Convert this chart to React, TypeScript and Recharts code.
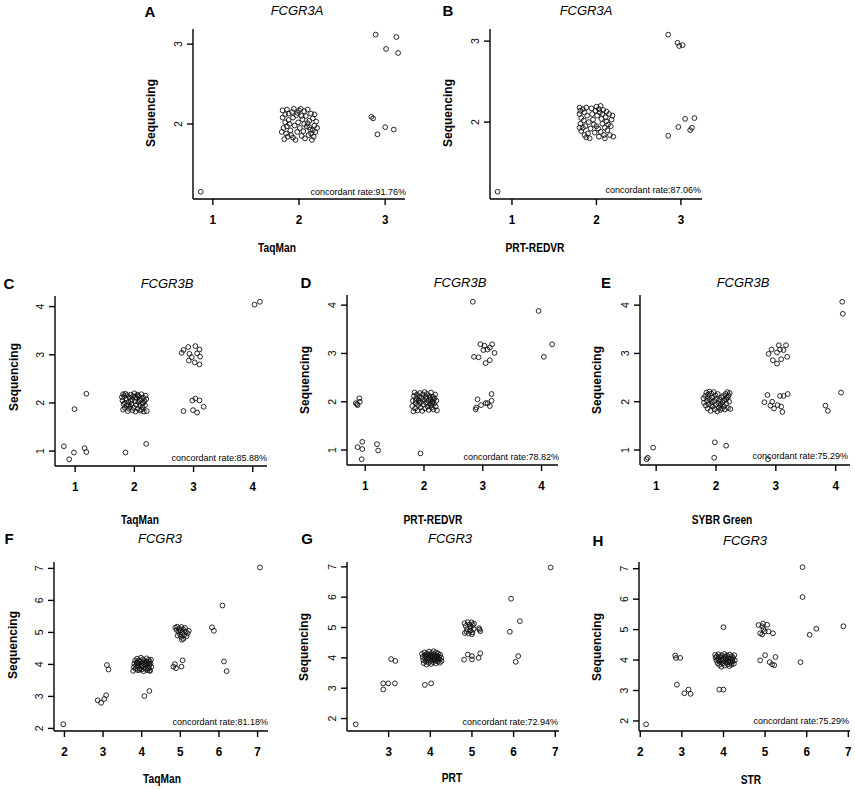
import React from 'react';
import { ScatterChart, Scatter, XAxis, YAxis } from 'recharts';

type Pt = [number, number];

// panel text
const letters = ['A', 'B', 'C', 'D', 'E', 'F', 'G', 'H'];
const genes = ['FCGR3A', 'FCGR3A', 'FCGR3B', 'FCGR3B', 'FCGR3B', 'FCGR3', 'FCGR3', 'FCGR3'];
const methods = ['TaqMan', 'PRT-REDVR', 'TaqMan', 'PRT-REDVR', 'SYBR Green', 'TaqMan', 'PRT', 'STR'];
const rates = ['91.76%', '87.06%', '85.88%', '78.82%', '75.29%', '81.18%', '72.94%', '75.29%'];
const yTitle = 'Sequencing';

// tick values
const ticks123 = [1, 2, 3];
const ticks23 = [2, 3];
const ticks1234 = [1, 2, 3, 4];
const ticks2to7 = [2, 3, 4, 5, 6, 7];
const ticks3to7 = [3, 4, 5, 6, 7];

// A: FCGR3A, TaqMan vs sequencing
const ptsA: Pt[] = [
  [0.86, 1.15], [2.89, 3.12], [3.13, 3.09], [3.01, 2.94], [3.15, 2.89],
  [2.84, 2.09], [2.86, 2.07], [3.0, 1.96], [2.91, 1.87], [3.1, 1.93],
  [1.81, 2.17], [1.84, 2.12], [1.86, 2.18], [1.88, 2.05], [1.82, 1.95], [1.85, 1.88], [1.83, 1.81],
  [1.87, 1.84], [1.9, 1.92], [1.92, 2.15], [1.94, 2.19], [1.93, 2.08], [1.95, 1.98], [1.91, 1.86],
  [1.96, 1.8], [1.98, 1.9], [1.99, 2.02], [1.97, 2.11], [2.0, 2.17], [2.02, 2.19], [2.01, 1.95],
  [2.03, 1.85], [2.04, 2.06], [1.89, 2.0], [1.84, 2.02], [1.8, 1.9], [2.06, 2.16], [2.08, 2.1],
  [2.1, 2.18], [2.12, 2.04], [2.14, 2.13], [2.16, 2.07], [2.18, 1.98], [2.2, 2.03], [2.19, 1.9],
  [2.17, 1.84], [2.15, 1.8], [2.13, 1.93], [2.11, 1.86], [2.09, 1.97], [2.07, 1.82], [2.05, 1.91],
  [2.21, 1.95], [2.18, 2.12], [2.14, 1.88], [2.1, 2.01], [1.86, 1.97], [1.93, 1.83], [1.98, 2.14],
  [2.06, 2.0], [1.81, 2.08], [1.88, 2.13], [2.03, 2.1], [2.16, 1.92], [2.12, 1.96],
];

// B: FCGR3A, PRT-REDVR vs sequencing
const ptsB: Pt[] = [
  [0.83, 1.14], [2.85, 3.08], [2.96, 2.98], [2.98, 2.94], [3.02, 2.95],
  [2.85, 1.83], [2.97, 1.94], [3.05, 2.04], [3.16, 2.05], [3.13, 1.93], [3.11, 1.9],
  [1.8, 2.18], [1.81, 2.14], [1.8, 2.1], [1.82, 2.05], [1.81, 1.98], [1.8, 1.93], [1.82, 1.89],
  [1.84, 2.16], [1.86, 2.12], [1.85, 2.02], [1.87, 1.95], [1.86, 1.84], [1.88, 1.81], [1.9, 1.86],
  [1.92, 1.8], [1.89, 2.08], [1.91, 2.0], [1.93, 1.92], [1.95, 2.1], [1.96, 2.03], [1.97, 1.97],
  [1.99, 2.14], [2.0, 2.19], [2.01, 2.08], [2.02, 1.92], [2.03, 2.16], [2.04, 2.12], [2.05, 2.2],
  [2.06, 2.04], [2.07, 1.98], [2.05, 1.88], [2.08, 2.15], [2.09, 1.84], [2.1, 1.93], [2.11, 2.06],
  [2.12, 2.01], [2.1, 1.8], [2.13, 1.9], [2.14, 1.97], [2.15, 2.1], [2.16, 1.84], [2.17, 1.95],
  [2.19, 2.08], [2.2, 1.82], [2.18, 2.03], [1.94, 2.17], [1.98, 1.87], [2.03, 1.82], [1.84, 1.93],
  [2.07, 2.1], [2.0, 1.95], [1.88, 2.18], [2.12, 2.13],
];

// C: FCGR3B, TaqMan vs sequencing
const ptsC: Pt[] = [
  [0.81, 1.1], [0.9, 0.83], [0.98, 0.97], [1.16, 1.06], [1.19, 0.98], [0.99, 1.87], [1.19, 2.19],
  [1.85, 0.97], [2.2, 1.15], [4.03, 4.04], [4.12, 4.1],
  [2.83, 3.1], [2.91, 3.16], [3.03, 3.18], [3.1, 3.11], [2.93, 3.02], [3.06, 3.03], [3.11, 2.96],
  [2.92, 2.88], [3.02, 2.84], [3.1, 2.8], [2.97, 2.95], [2.8, 3.04],
  [2.83, 1.83], [2.99, 1.85], [3.06, 1.8], [2.98, 2.05], [3.03, 2.09], [3.1, 2.05], [3.17, 1.92],
  [1.79, 2.12], [1.81, 2.18], [1.83, 2.14], [1.85, 2.19], [1.8, 2.05], [1.82, 1.97], [1.84, 1.9],
  [1.81, 1.86], [1.86, 2.08], [1.88, 2.16], [1.87, 1.95], [1.89, 1.83], [1.91, 1.88], [1.9, 2.02],
  [1.92, 2.11], [1.94, 2.17], [1.95, 1.98], [1.93, 1.92], [1.97, 1.85], [1.96, 2.07], [1.98, 2.14],
  [2.0, 2.2], [2.01, 2.03], [1.99, 1.9], [2.02, 1.82], [2.03, 1.96], [2.04, 2.1], [2.05, 2.17],
  [2.06, 1.88], [2.07, 2.02], [2.08, 2.13], [2.09, 1.94], [2.1, 1.84], [2.11, 2.07], [2.12, 2.18],
  [2.13, 1.99], [2.14, 1.91], [2.15, 2.11], [2.16, 1.82], [2.17, 2.04], [2.18, 1.95], [2.19, 2.15],
  [2.2, 2.08], [2.21, 1.83], [2.06, 2.15], [2.09, 2.05], [2.12, 1.86], [1.84, 2.0], [1.94, 2.04],
  [2.02, 2.12], [2.15, 2.0], [1.9, 1.95],
];

// D: FCGR3B, PRT-REDVR vs sequencing
const ptsD: Pt[] = [
  [0.84, 1.97], [0.87, 1.93], [0.9, 2.07], [0.91, 2.0], [0.86, 1.95],
  [0.87, 1.06], [0.95, 1.02], [0.95, 1.17], [0.94, 0.81], [1.2, 1.12], [1.22, 0.99], [1.94, 0.93],
  [2.83, 4.07], [3.95, 3.88], [4.18, 3.19], [4.04, 2.93],
  [2.85, 2.93], [2.93, 2.92], [2.96, 3.19], [3.03, 3.16], [3.08, 3.08], [3.12, 3.12], [3.16, 3.19],
  [3.2, 3.01], [3.05, 2.8], [3.12, 2.86], [3.01, 3.07],
  [2.88, 1.84], [2.91, 2.05], [2.97, 1.93], [3.05, 1.97], [3.12, 1.91], [3.15, 2.16], [3.15, 2.02],
  [2.89, 1.88], [3.08, 1.97],
  [1.8, 1.91], [1.82, 1.8], [1.81, 2.02], [1.83, 2.12], [1.84, 2.19], [1.85, 1.86], [1.86, 1.97],
  [1.87, 2.07], [1.88, 2.15], [1.89, 1.82], [1.9, 1.93], [1.91, 2.03], [1.92, 2.11], [1.93, 2.18],
  [1.94, 1.88], [1.95, 1.99], [1.96, 2.08], [1.97, 1.81], [1.98, 2.15], [1.99, 1.94], [2.0, 2.04],
  [2.01, 2.2], [2.02, 1.86], [2.03, 2.1], [2.04, 1.97], [2.05, 2.16], [2.06, 1.9], [2.07, 2.02],
  [2.08, 1.83], [2.09, 2.12], [2.1, 1.95], [2.11, 2.05], [2.12, 2.19], [2.13, 1.88], [2.14, 2.0],
  [2.15, 2.1], [2.16, 1.84], [2.17, 1.96], [2.18, 2.07], [2.19, 2.15], [2.2, 1.9], [2.21, 2.02],
  [2.22, 1.82], [2.12, 1.93], [2.14, 1.97], [2.1, 2.08], [1.86, 2.02], [1.92, 1.98], [2.04, 2.06],
  [2.16, 2.04],
];

// E: FCGR3B, SYBR Green vs sequencing
const ptsE: Pt[] = [
  [0.84, 0.81], [0.86, 0.84], [0.95, 1.05], [1.98, 1.16], [2.17, 1.09], [1.97, 0.84], [2.87, 0.81],
  [4.11, 4.07], [4.12, 3.82], [4.09, 2.19], [3.83, 1.92], [3.87, 1.81],
  [2.88, 2.99], [2.93, 3.08], [3.02, 3.02], [3.05, 3.17], [3.17, 3.17], [3.07, 3.08], [2.95, 2.86],
  [3.02, 2.79], [3.09, 2.88], [3.19, 2.93], [3.13, 3.07],
  [2.81, 1.99], [2.86, 2.14], [2.91, 1.92], [2.97, 1.86], [2.94, 2.0], [3.03, 1.93], [3.09, 1.9],
  [3.11, 1.79], [3.07, 2.12], [3.13, 2.12], [3.2, 2.16],
  [1.79, 2.07], [1.8, 1.98], [1.82, 2.12], [1.83, 1.92], [1.84, 2.19], [1.85, 2.02], [1.86, 1.86],
  [1.87, 2.15], [1.88, 1.95], [1.89, 2.21], [1.9, 2.05], [1.91, 1.81], [1.92, 2.17], [1.93, 1.99],
  [1.94, 2.09], [1.95, 1.9], [1.96, 2.2], [1.97, 2.02], [1.98, 1.84], [1.99, 2.13], [2.0, 1.94],
  [2.01, 2.06], [2.02, 1.8], [2.03, 2.16], [2.04, 1.97], [2.05, 1.88], [2.06, 2.04], [2.07, 1.83],
  [2.08, 1.95], [2.09, 2.09], [2.1, 1.86], [2.11, 1.99], [2.12, 2.12], [2.13, 1.91], [2.14, 2.03],
  [2.15, 1.84], [2.16, 2.16], [2.17, 1.96], [2.18, 2.08], [2.19, 2.2], [2.2, 1.87], [2.21, 2.13],
  [2.22, 2.0], [2.23, 2.18], [2.24, 1.85], [2.17, 2.05], [2.2, 2.1], [1.86, 2.08], [1.92, 1.93],
  [2.07, 1.92],
];

// F: FCGR3, TaqMan vs sequencing
const ptsF: Pt[] = [
  [1.97, 2.13], [2.86, 2.88], [2.95, 2.8], [3.03, 2.92], [3.08, 3.04], [3.1, 3.98], [3.14, 3.84],
  [4.07, 3.01], [4.2, 3.17],
  [4.82, 3.93], [4.86, 4.01], [4.89, 3.88], [5.03, 3.93], [5.06, 4.13],
  [5.82, 5.16], [5.87, 5.05], [6.09, 5.84], [6.13, 4.09], [6.2, 3.79], [7.06, 7.03],
  [4.87, 5.15], [4.9, 5.08], [4.92, 5.18], [4.95, 5.02], [4.97, 5.12], [4.99, 4.94], [5.0, 5.06],
  [5.02, 4.86], [5.03, 5.17], [5.05, 4.99], [5.07, 5.1], [5.08, 4.8], [5.1, 4.92], [5.12, 5.14],
  [5.14, 5.03], [5.16, 4.88], [5.19, 4.97], [5.22, 5.05], [5.04, 4.77], [4.93, 4.9],
  [3.78, 3.8], [3.8, 3.92], [3.81, 4.02], [3.83, 4.12], [3.84, 3.86], [3.86, 3.97], [3.87, 4.07],
  [3.88, 4.18], [3.9, 3.82], [3.91, 3.93], [3.92, 4.03], [3.93, 4.13], [3.95, 3.88], [3.96, 4.0],
  [3.97, 4.1], [3.98, 4.21], [4.0, 3.84], [4.01, 3.95], [4.02, 4.05], [4.03, 4.16], [4.05, 3.79],
  [4.06, 3.9], [4.07, 4.01], [4.08, 4.11], [4.1, 3.86], [4.11, 3.97], [4.12, 4.08], [4.13, 4.19],
  [4.15, 3.82], [4.16, 3.93], [4.17, 4.04], [4.18, 4.14], [4.19, 3.88], [4.2, 3.99], [4.21, 4.09],
  [4.22, 3.8], [4.23, 4.02], [4.24, 4.15], [4.25, 3.92], [4.2, 3.81], [3.89, 4.05], [3.99, 3.95],
  [4.09, 4.0], [4.14, 4.06], [3.94, 3.83],
];

// G: FCGR3, PRT vs sequencing
const ptsG: Pt[] = [
  [2.21, 1.81], [2.87, 2.96], [2.87, 3.16], [2.99, 3.16], [3.15, 3.16], [3.06, 3.96], [3.16, 3.9],
  [3.87, 3.11], [4.02, 3.16],
  [4.81, 3.94], [4.9, 4.11], [5.0, 3.95], [5.0, 4.06], [5.16, 4.0], [5.2, 4.15],
  [5.94, 5.95], [5.91, 4.86], [6.15, 5.21], [6.11, 4.06], [6.05, 3.87], [6.89, 6.98],
  [4.82, 5.14], [4.85, 5.05], [4.83, 4.82], [4.88, 4.95], [4.9, 5.18], [4.92, 4.8], [4.94, 5.1],
  [4.96, 4.9], [4.97, 5.0], [4.99, 5.17], [5.01, 4.84], [5.02, 5.08], [5.04, 4.95], [5.05, 5.13],
  [5.0, 4.78], [4.87, 4.86], [5.17, 4.98], [5.2, 4.88], [5.18, 4.93], [4.95, 5.04],
  [3.8, 4.13], [3.82, 4.03], [3.83, 3.93], [3.84, 3.83], [3.86, 4.18], [3.87, 4.08], [3.88, 3.98],
  [3.89, 3.88], [3.91, 3.78], [3.92, 4.14], [3.93, 4.04], [3.94, 3.94], [3.96, 3.84], [3.97, 4.21],
  [3.98, 4.1], [3.99, 4.0], [4.01, 3.9], [4.02, 3.8], [4.03, 4.16], [4.04, 4.06], [4.06, 3.96],
  [4.07, 3.86], [4.08, 4.22], [4.09, 4.12], [4.11, 4.02], [4.12, 3.92], [4.13, 3.82], [4.14, 4.18],
  [4.16, 4.08], [4.17, 3.98], [4.18, 3.88], [4.19, 4.14], [4.21, 4.04], [4.22, 3.94], [4.23, 3.84],
  [4.24, 4.1], [4.26, 4.0], [4.27, 3.9], [4.0, 4.07], [4.05, 4.01], [4.1, 3.96], [3.95, 3.99],
  [4.15, 4.03], [3.9, 4.09], [4.2, 3.97],
];

// H: FCGR3, STR vs sequencing
const ptsH: Pt[] = [
  [2.14, 1.89], [2.84, 4.15], [2.86, 4.07], [2.96, 4.07], [2.88, 3.19], [3.06, 2.91], [3.16, 3.03],
  [3.21, 2.89], [3.9, 3.03], [4.0, 3.03], [4.0, 5.08],
  [4.88, 3.99], [5.0, 4.16], [5.11, 3.93], [5.17, 3.86], [5.25, 4.1], [5.22, 3.83],
  [4.84, 5.15], [4.95, 5.2], [5.05, 5.16], [4.96, 5.02], [4.99, 4.94], [4.93, 4.84], [4.88, 4.88],
  [5.08, 4.94], [5.19, 4.88], [4.93, 5.11],
  [5.9, 7.05], [5.9, 6.07], [5.85, 3.93], [6.07, 4.83], [6.23, 5.03], [6.88, 5.11],
  [3.8, 4.17], [3.81, 4.08], [3.83, 3.99], [3.84, 4.12], [3.86, 3.9], [3.87, 4.03], [3.88, 4.19],
  [3.9, 3.84], [3.91, 3.95], [3.92, 4.1], [3.94, 4.01], [3.95, 3.78], [3.96, 4.16], [3.98, 3.89],
  [3.99, 4.06], [4.0, 3.97], [4.02, 4.2], [4.03, 3.82], [4.04, 4.11], [4.06, 3.93], [4.07, 4.02],
  [4.08, 4.15], [4.1, 3.86], [4.11, 3.98], [4.12, 4.09], [4.14, 3.8], [4.15, 4.18], [4.16, 3.91],
  [4.18, 4.04], [4.19, 3.85], [4.2, 4.13], [4.22, 3.95], [4.23, 4.07], [4.25, 3.88], [4.26, 4.16],
  [4.27, 3.99], [4.05, 4.05], [3.97, 4.0], [4.13, 3.94], [3.89, 4.0], [4.21, 4.01],
];

const allPoints = [ptsA, ptsB, ptsC, ptsD, ptsE, ptsF, ptsG, ptsH];

// where each panel sits on the page (plot box l, t, r, b) and its text anchors
const panels = [
  { box: [193, 29, 405, 199], xd: [0.77, 3.23], yd: [1.06, 3.19], xt: ticks123, yt: ticks23,
    letter: [150, 11], title: [297, 10], ylab: [151, 113], xlab: [277, 248], rate: [406, 192] },
  { box: [490, 29, 702, 199], xd: [0.74, 3.25], yd: [1.05, 3.15], xt: ticks123, yt: ticks23,
    letter: [448, 10], title: [586, 10], ylab: [448, 113], xlab: [535, 248], rate: [701, 190] },
  { box: [55, 296, 267, 466], xd: [0.66, 4.24], yd: [0.69, 4.22], xt: ticks1234, yt: ticks1234,
    letter: [9, 283], title: [167, 283], ylab: [14, 377], xlab: [140, 520], rate: [267, 458] },
  { box: [347, 295, 558, 465], xd: [0.69, 4.28], yd: [0.69, 4.21], xt: ticks1234, yt: ticks1234,
    letter: [306, 282], title: [460, 282], ylab: [305, 380], xlab: [433, 520], rate: [559, 457] },
  { box: [640, 295, 850, 465], xd: [0.73, 4.24], yd: [0.69, 4.21], xt: ticks1234, yt: ticks1234,
    letter: [606, 282], title: [743, 282], ylab: [597, 380], xlab: [722, 520], rate: [848, 456] },
  { box: [54, 562, 268, 731], xd: [1.73, 7.27], yd: [1.92, 7.2], xt: ticks2to7, yt: ticks2to7,
    letter: [9, 538], title: [160, 538], ylab: [13, 645], xlab: [162, 779], rate: [268, 722] },
  { box: [347, 562, 559, 731], xd: [2.0, 7.09], yd: [1.59, 7.16], xt: ticks3to7, yt: ticks2to7,
    letter: [307, 538], title: [450, 538], ylab: [304, 647], xlab: [452, 778], rate: [558, 722] },
  { box: [639, 562, 850, 731], xd: [1.97, 7.04], yd: [1.67, 7.22], xt: ticks2to7, yt: ticks2to7,
    letter: [598, 540], title: [745, 540], ylab: [597, 647], xlab: [751, 780], rate: [849, 721] },
];

const FONT = '"Liberation Sans", Arial, sans-serif';
const YW = 40;
const MT = 5;
const MR = 6;
const XH = 40;

const Ring = (props: any) => (
  <circle cx={props.cx} cy={props.cy} r={2.4} fill="none" stroke="#111" strokeWidth={0.9} />
);

function Panel({ idx }: { idx: number }) {
  const p = panels[idx];
  const [l, t, r, b] = p.box;
  const w = r - l;
  const h = b - t;
  const axisY = MT + h;
  const data = allPoints[idx].map(([x, y]) => ({ x, y }));

  const XTick = (props: any) => (
    <text
      transform={`translate(${props.x}, ${axisY + 25}) scale(0.9, 1)`}
      textAnchor="middle"
      fontSize={13}
      fontWeight="bold"
      fontFamily={FONT}
      fill="#000"
    >
      {props.payload.value}
    </text>
  );

  const YTick = (props: any) => (
    <text
      transform={`translate(${YW - 11}, ${props.y}) rotate(-90)`}
      textAnchor="middle"
      fontSize={10.5}
      fontFamily={FONT}
      fill="#000"
    >
      {props.payload.value}
    </text>
  );

  return (
    <div style={{ position: 'absolute', left: l - YW, top: t - MT }}>
      <ScatterChart
        width={w + YW + MR}
        height={h + MT + XH}
        margin={{ top: MT, right: MR, bottom: 0, left: 0 }}
      >
        <XAxis
          type="number"
          dataKey="x"
          domain={p.xd}
          ticks={p.xt}
          interval={0}
          allowDataOverflow
          height={XH}
          axisLine={{ stroke: '#000', strokeWidth: 1.4 }}
          tickLine={{ stroke: '#000', strokeWidth: 1.4 }}
          tickSize={6}
          tick={XTick}
        />
        <YAxis
          type="number"
          dataKey="y"
          domain={p.yd}
          ticks={p.yt}
          interval={0}
          allowDataOverflow
          width={YW}
          axisLine={{ stroke: '#000', strokeWidth: 1.4 }}
          tickLine={{ stroke: '#000', strokeWidth: 1.4 }}
          tickSize={6}
          tick={YTick}
        />
        <Scatter data={data} shape={Ring} isAnimationActive={false} />
      </ScatterChart>
    </div>
  );
}

const centered: React.CSSProperties = {
  position: 'absolute',
  whiteSpace: 'nowrap',
  lineHeight: 1,
  color: '#000',
};

function PanelText({ idx }: { idx: number }) {
  const p = panels[idx];
  return (
    <>
      <div style={{ ...centered, left: p.letter[0], top: p.letter[1], transform: 'translate(-50%, -50%)', fontSize: 15, fontWeight: 'bold' }}>
        {letters[idx]}
      </div>
      <div style={{ ...centered, left: p.title[0], top: p.title[1], transform: 'translate(-50%, -50%)', fontSize: 13, fontStyle: 'italic' }}>
        {genes[idx]}
      </div>
      <div style={{ ...centered, left: p.ylab[0], top: p.ylab[1], transform: 'translate(-50%, -50%) rotate(-90deg)', fontSize: 12, fontWeight: 'bold' }}>
        {yTitle}
      </div>
      <div style={{ ...centered, left: p.xlab[0], top: p.xlab[1], transform: 'translate(-50%, -50%) scale(0.85, 1)', fontSize: 12, fontWeight: 'bold' }}>
        {methods[idx]}
      </div>
      <div style={{ ...centered, left: p.rate[0], top: p.rate[1], transform: 'translate(-100%, -50%)', fontSize: 9 }}>
        {'concordant rate:' + rates[idx]}
      </div>
    </>
  );
}

export default function App() {
  return (
    <div
      style={{
        position: 'absolute',
        left: 0,
        top: 0,
        width: 855,
        height: 790,
        background: '#fff',
        fontFamily: FONT,
        overflow: 'hidden',
      }}
    >
      {panels.map((_, i) => (
        <Panel key={'c' + i} idx={i} />
      ))}
      {panels.map((_, i) => (
        <PanelText key={'t' + i} idx={i} />
      ))}
    </div>
  );
}
